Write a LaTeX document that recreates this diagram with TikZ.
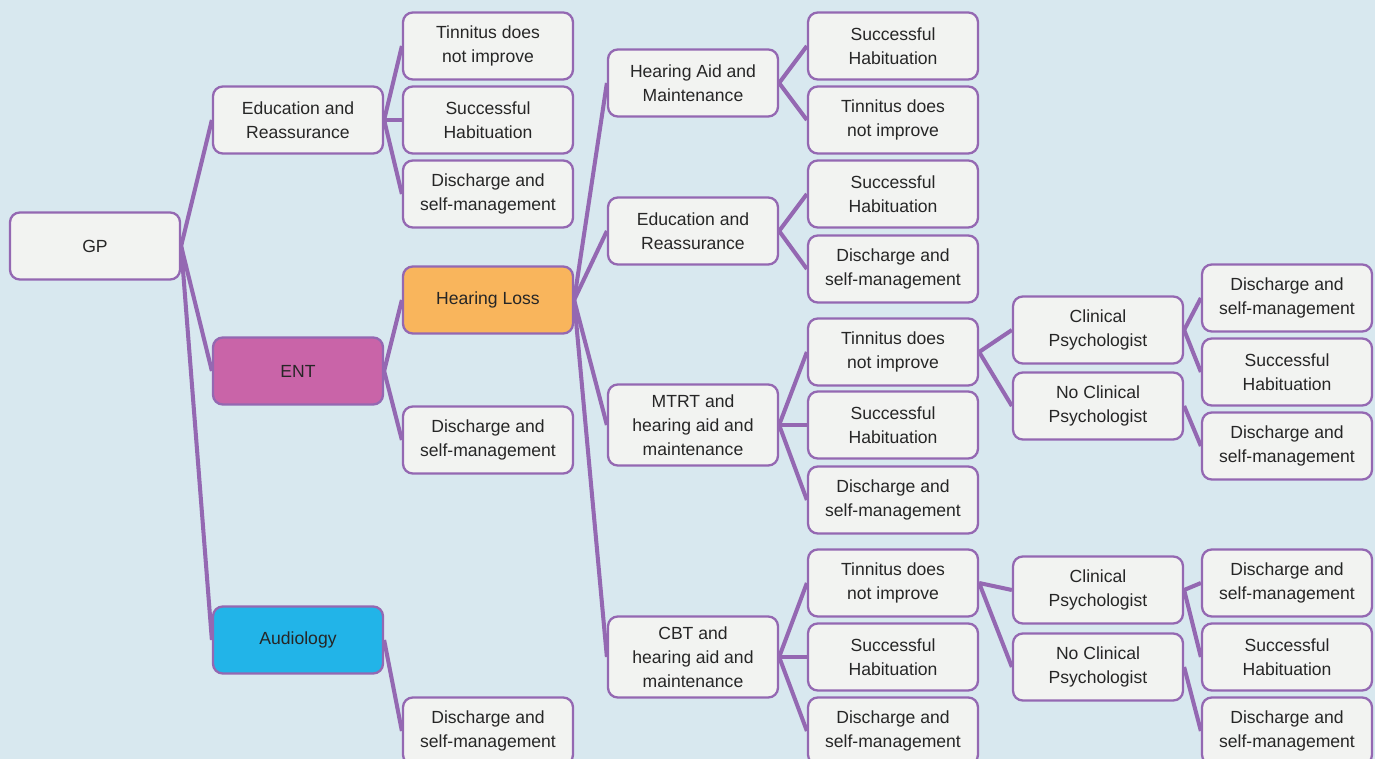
\documentclass[tikz,border=0pt]{standalone}
\usepackage{fontspec}
\setmainfont{Liberation Sans}

\definecolor{bgblue}{HTML}{D8E8EF}
\definecolor{lilac}{HTML}{9468B2}
\definecolor{boxgrey}{HTML}{F2F3F1}
\definecolor{inkgrey}{HTML}{262626}
\definecolor{entpink}{HTML}{C964A8}
\definecolor{audioblue}{HTML}{22B4E8}
\definecolor{lossorange}{HTML}{F9B55C}

\begin{document}
\begin{tikzpicture}[x=0.02cm, y=-0.02cm,
    box/.style={draw=lilac, line width=1.3pt, rounded corners=5.5pt, fill=boxgrey,
        text=inkgrey, minimum width=3.4cm, minimum height=1.34cm, inner ysep=2pt,
        align=center, font=\fontsize{10}{13.6}\selectfont},
    tallbox/.style={box, minimum height=1.62cm},
    link/.style={lilac, line width=2.3pt}]

    % Background and page size
    \fill[bgblue] (0,0) rectangle (1375,759);
    \useasboundingbox (0,0) rectangle (1375,759);

    % First two columns
    \node[box] (gp) at (95,246) {GP};
    \node[box] (edu) at (298,120) {Education and\\Reassurance};
    \node[box, fill=entpink] (ent) at (298,371) {ENT};
    \node[box, fill=audioblue] (aud) at (298,640) {Audiology};

    % Third column
    \node[box] (eduA) at (488,46) {Tinnitus does\\not improve};
    \node[box] (eduB) at (488,120) {Successful\\Habituation};
    \node[box] (eduC) at (488,194) {Discharge and\\self-management};
    \node[box, fill=lossorange] (loss) at (488,300) {Hearing Loss};
    \node[box] (entD) at (488,440) {Discharge and\\self-management};
    \node[box] (audD) at (488,731) {Discharge and\\self-management};

    % Treatments after hearing loss
    \node[box] (aid) at (693,83) {Hearing Aid and\\Maintenance};
    \node[box] (reas) at (693,231) {Education and\\Reassurance};
    \node[tallbox] (mtrt) at (693,425) {MTRT and\\hearing aid and\\maintenance};
    \node[tallbox] (cbt) at (693,657) {CBT and\\hearing aid and\\maintenance};

    % Outcomes of the treatments
    \node[box] (aidA) at (893,46) {Successful\\Habituation};
    \node[box] (aidB) at (893,120) {Tinnitus does\\not improve};
    \node[box] (reasA) at (893,194) {Successful\\Habituation};
    \node[box] (reasB) at (893,269) {Discharge and\\self-management};
    \node[box] (mtrtA) at (893,352) {Tinnitus does\\not improve};
    \node[box] (mtrtB) at (893,425) {Successful\\Habituation};
    \node[box] (mtrtC) at (893,500) {Discharge and\\self-management};
    \node[box] (cbtA) at (893,583) {Tinnitus does\\not improve};
    \node[box] (cbtB) at (893,657) {Successful\\Habituation};
    \node[box] (cbtC) at (893,731) {Discharge and\\self-management};

    % Psychologist or not
    \node[box] (psyA) at (1098,330) {Clinical\\Psychologist};
    \node[box] (nopsyA) at (1098,406) {No Clinical\\Psychologist};
    \node[box] (psyB) at (1098,590) {Clinical\\Psychologist};
    \node[box] (nopsyB) at (1098,667) {No Clinical\\Psychologist};

    % Last column
    \node[box] (psyAa) at (1287,298) {Discharge and\\self-management};
    \node[box] (psyAb) at (1287,372) {Successful\\Habituation};
    \node[box] (nopsyAa) at (1287,446) {Discharge and\\self-management};
    \node[box] (psyBa) at (1287,583) {Discharge and\\self-management};
    \node[box] (psyBb) at (1287,657) {Successful\\Habituation};
    \node[box] (nopsyBa) at (1287,731) {Discharge and\\self-management};

    % Links from parent to children
    \foreach \c in {edu,ent,aud} \draw[link] (gp.east) -- (\c.west);
    \foreach \c in {eduA,eduB,eduC} \draw[link] (edu.east) -- (\c.west);
    \foreach \c in {loss,entD} \draw[link] (ent.east) -- (\c.west);
    \draw[link] (aud.east) -- (audD.west);
    \foreach \c in {aid,reas,mtrt,cbt} \draw[link] (loss.east) -- (\c.west);
    \foreach \c in {aidA,aidB} \draw[link] (aid.east) -- (\c.west);
    \foreach \c in {reasA,reasB} \draw[link] (reas.east) -- (\c.west);
    \foreach \c in {mtrtA,mtrtB,mtrtC} \draw[link] (mtrt.east) -- (\c.west);
    \foreach \c in {cbtA,cbtB,cbtC} \draw[link] (cbt.east) -- (\c.west);
    \foreach \c in {psyA,nopsyA} \draw[link] (mtrtA.east) -- (\c.west);
    \foreach \c in {psyB,nopsyB} \draw[link] (cbtA.east) -- (\c.west);
    \foreach \c in {psyAa,psyAb} \draw[link] (psyA.east) -- (\c.west);
    \draw[link] (nopsyA.east) -- (nopsyAa.west);
    \foreach \c in {psyBa,psyBb} \draw[link] (psyB.east) -- (\c.west);
    \draw[link] (nopsyB.east) -- (nopsyBa.west);
\end{tikzpicture}
\end{document}
